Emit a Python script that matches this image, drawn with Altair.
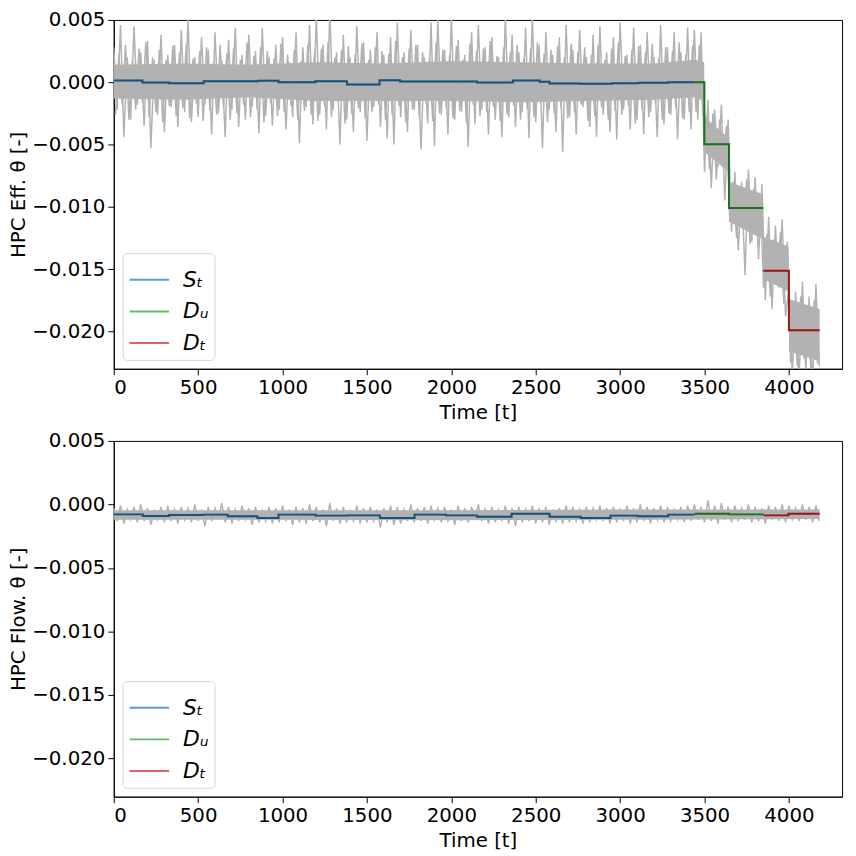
import altair as alt
import pandas as pd

# ---------------- data (values in units of 1e-4) ----------------
noise_t = list(range(0, 4200, 20))      # samples of the noisy signal (first trace)
noise2_t = list(range(10, 4190, 20))    # samples of the noisy signal (in-between trace)

eff_noise_e4 = [
    28, -22, 46, -44, 20, -30, 45, -18, 24, -35, 33, -53, 18, -26, 38, -40, 22, -20, 30, -36,
    42, -24, 50, -32, 20, -28, 36, -18, 26, -42, 40, -25, 18, -44, 34, -22, 44, -36, 22, -30,
    38, -20, 25, -41, 44, -27, 20, -35, 30, -22, 36, -38, 16, -28, 40, -49, 28, -20, 46, -34,
    52, -26, 30, -38, 55, -22, 24, -50, 38, -30, 20, -40, 45, -24, 32, -47, 26, -20, 40, -36,
    22, -45, 36, -50, 48, -28, 24, -40, 42, -22, 30, -54, 20, -33, 48, -51, 50, -26, 26, -42,
    52, -30, 34, -24, 22, -52, 40, -34, 46, -22, 28, -42, 36, -30, 20, -44, 52, -28, 38, -36,
    24, -24, 44, -45, 52, -32, 30, -53, 40, -22, 22, -40, 36, -56, 46, -28, 26, -42, 42, -20,
    20, -36, 38, -44, 45, -26, 24, -40, 36, -46, 48, -22, 22, -38, 44, -30, 30, -42, 40, -24,
    20, -44, 46, -34, 28, -26, 40, -46, 24, -30, 44, -38,
    42, -30, 40, -72, -14, -85, -22, -68, -18, -95, -30, -120, -72, -135, -80, -155, -70, -128,
    -76, -142, -82, -175, -108, -182, -115, -165, -110, -188, -165, -235, -168, -240, -160, -232,
    -172, -245, -162, -228,
]

eff_noise2_e4 = [
    -26, 22, -18, 30, -30, 17, -22, 27, -16, 32, -28, 20, -24, 26, -32, 18, -19, 29, -27, 24,
    -21, 31, -29, 19, -17, 25, -31, 28, -23, 16, -26, 30, -20, 23, -30, 27, -25, 18, -18, 32,
    -28, 21, -22, 28, -32, 25, -17, 19, -27, 31, -24, 22, -19, 26, -30, 17, -23, 30, -26, 24,
    -31, 27, -20, 32, -28, 20, -16, 26, -33, 29, -25, 22, -21, 31, -29, 18, -24, 28, -18, 25,
    -30, 23, -26, 33, -19, 20, -32, 27, -22, 30, -28, 24, -17, 19, -31, 32, -25, 26, -21, 22,
    -29, 29, -23, 18, -33, 31, -18, 25, -27, 27, -24, 33, -20, 21, -31, 28, -26, 24, -19, 30,
    -30, 19, -22, 27, -28, 32, -17, 23, -32, 26, -25, 29, -21, 20, -29, 31, -24, 24, -18, 28,
    -31, 22, -27, 30, -20, 18, -30, 27, -23, 32, -26, 21, -19, 26, -33, 29, -22, 24, -28, 31,
    -17, 20, -30, 28, -25, 25, -21, 32, -29, 22, -24, 30,
    -24, 30, -26, -28, -70, -25, -78, -30, -66, -35,
    -112, -80, -125, -84, -118, -78, -130, -86, -122, -90,
    -165, -122, -172, -126, -160, -120, -178, -128,
    -225, -178, -228, -172, -222, -180, -230, -175, -226,
]

flow_noise_e4 = [
    -3, -13, -1, -15, -4, -12, -2, -14, 0, -13, -3, -16, -5, -12, -2, -14, -1, -13, -4, -15,
    -2, -12, -3, -14, 0, -13, -4, -17, -2, -13, -3, -12, 1, -14, -2, -15, -4, -13, -1, -12,
    -3, -16, -2, -14, -5, -13, -2, -15, -3, -14, -1, -13, -4, -16, -2, -14, -3, -15, 0, -13,
    -2, -14, -4, -17, 1, -13, -3, -15, -2, -14, -5, -13, -1, -15, -3, -14, -2, -13, -4, -18,
    -3, -14, -1, -16, -2, -15, -4, -13, 0, -14, -3, -13, -2, -15, -1, -12, -3, -14, -2, -13,
    -4, -16, -1, -13, -3, -14, -2, -12, 0, -13, -3, -15, -2, -14, -4, -13, -1, -15, -3, -17,
    -2, -14, -4, -13, -1, -15, -3, -14, -2, -16, -4, -13, -3, -15, -1, -14, -2, -13, -4, -15,
    -2, -14, -3, -12, -1, -13, -3, -15, -2, -14, -4, -13, -1, -15, -3, -14, 0, -13, -2, -15,
    -3, -12, -1, -14, -2, -13, -4, -12, -2, -14, -1, -13, 0, -12, -2, -14, 3, -13, -1, -15,
    1, -12, -2, -14, -1, -13, -3, -12, 0, -14, -2, -13, -3, -15, -1, -12, -2, -13, 0, -14,
    -1, -12, -3, -13, 0, -12, -2, -14, -1, -13,
]

# dense core of the noisy signal (upper / lower edge of the solid grey band)
eff_band_t = [0, 400, 800, 1200, 1600, 2000, 2400, 2800, 3200, 3440, 3498, 3500, 3644, 3646, 3847, 3849, 3999, 4001, 4182]
eff_band_hi = [14, 15, 14, 16, 15, 17, 16, 15, 15, 18, 16, -28, -45, -80, -90, -124, -132, -174, -182]
eff_band_lo = [-13, -14, -12, -15, -15, -15, -16, -15, -14, -12, -15, -56, -72, -112, -126, -158, -168, -216, -224]

flow_band_t = [0, 1000, 2000, 3000, 4182]
flow_band_hi = [-4.5, -4.5, -4.5, -4.0, -4.0]
flow_band_lo = [-12.0, -12.0, -12.5, -12.0, -11.5]

series_names = ["Sₜ", "Dᵤ", "Dₜ"]
legend_colors = ["#1f77b4", "#2ca02c", "#d62728"]

# step segments: start times, end time, levels
eff_steps = {
    "Sₜ": ([0, 170, 328, 533, 855, 976, 1194, 1382, 1575, 1697, 2152, 2365, 2523, 2582, 2767, 2952, 3108, 3285], 3440,
           [1.3, -0.3, -0.8, 0.8, 1.2, 0.0, 0.8, -1.8, 1.6, 0.5, -0.3, 1.3, 0.3, -1.0, -1.3, -0.8, -0.5, 0.0]),
    "Dᵤ": ([3440, 3499, 3645], 3848, [0.0, -49.7, -101.0]),
    "Dₜ": ([3848, 4000], 4182, [-151.4, -199.0]),
}
flow_steps = {
    "Sₜ": ([0, 172, 328, 533, 675, 851, 976, 1196, 1382, 1577, 1782, 1967, 2153, 2357, 2582, 2767, 2943, 3104, 3285], 3441,
           [-7.8, -9.1, -8.3, -8.0, -9.3, -10.6, -8.0, -8.8, -8.6, -10.6, -8.0, -8.6, -9.6, -7.3, -9.6, -10.6, -8.8, -9.3, -8.0]),
    "Dᵤ": ([3441, 3646], 3851, [-7.3, -7.8]),
    "Dₜ": ([3851, 3997], 4182, [-8.6, -7.3]),
}

x_ticks = [0, 500, 1000, 1500, 2000, 2500, 3000, 3500, 4000]
y_ticks = [0.005, 0.0, -0.005, -0.010, -0.015, -0.020]

GRAY = "#b2b2b2"


def noise_df(ts, vals):
    return pd.DataFrame({"t": ts, "v": [v * 1e-4 for v in vals]})


def band_df(ts, hi, lo):
    return pd.DataFrame({"t": ts, "v": [v * 1e-4 for v in hi], "v2": [v * 1e-4 for v in lo]})


def step_df(steps):
    rows = []
    for name, (starts, end, levels) in steps.items():
        for s, lv in zip(starts, levels):
            rows.append({"t": s, "v": lv * 1e-4, "series": name})
        rows.append({"t": end, "v": levels[-1] * 1e-4, "series": name})
    return pd.DataFrame(rows)


def panel(traces, band, steps, ytitle, h):
    x = alt.X("t:Q", scale=alt.Scale(domain=[0, 4315], nice=False, zero=False),
              axis=alt.Axis(values=x_ticks, format="d", title="Time [t]", titlePadding=5))
    y = alt.Y("v:Q", scale=alt.Scale(domain=[-0.023, 0.005], nice=False, zero=False),
              axis=alt.Axis(values=y_ticks, format=".3f", title=ytitle, titlePadding=3))
    layers = [alt.Chart(band_df(*band)).mark_area(color=GRAY, clip=True).encode(
        x=x, y=y, y2="v2:Q")]
    for ts, vals in traces:
        layers.append(alt.Chart(noise_df(ts, vals)).mark_line(
            color=GRAY, strokeWidth=1.5, clip=True).encode(x=x, y=y))
    sdf = step_df(steps)
    layers.append(alt.Chart(sdf).mark_line(
        interpolate="step-after", strokeWidth=2, clip=True).encode(
        x=x, y=y,
        color=alt.Color("series:N",
                        scale=alt.Scale(domain=series_names, range=legend_colors),
                        sort=series_names,
                        legend=alt.Legend(
                            title=None, orient="bottom-left", offset=9,
                            symbolType="stroke", symbolSize=1600, symbolStrokeWidth=2,
                            symbolOpacity=0.72,
                            labelFontSize=22, labelFontStyle="italic", labelFont="DejaVu Sans",
                            labelColor="black", labelOffset=13,
                            fillColor="white", strokeColor="#d6d6d6", cornerRadius=4,
                            padding=6, rowPadding=-3))))
    layers.append(alt.Chart(sdf).mark_line(
        interpolate="step-after", strokeWidth=2, color="black", opacity=0.3, clip=True).encode(
        x=x, y=y, detail="series:N"))
    return alt.layer(*layers).properties(width=737, height=h)


top = panel([(noise_t, eff_noise_e4), (noise2_t, eff_noise2_e4)],
            (eff_band_t, eff_band_hi, eff_band_lo), eff_steps, "HPC Eff. θ [-]", 353)
bottom = panel([(noise_t, flow_noise_e4)],
               (flow_band_t, flow_band_hi, flow_band_lo), flow_steps, "HPC Flow. θ [-]", 360)

chart = alt.vconcat(top, bottom, spacing=7).resolve_scale(color="independent").resolve_legend(
    color="independent").configure_axis(
    grid=False, domainColor="black", tickColor="black", tickSize=6,
    labelFontSize=20, titleFontSize=20, labelColor="black", titleColor="black",
    labelFont="DejaVu Sans", titleFont="DejaVu Sans", titleFontWeight="normal",
    labelPadding=3,
).configure_view(stroke="black", strokeWidth=1).properties(
    padding={"left": 0, "top": -4, "right": 5, "bottom": 5}, background="white")

chart.save("out.html", embed_options={"renderer": "svg", "actions": False})
